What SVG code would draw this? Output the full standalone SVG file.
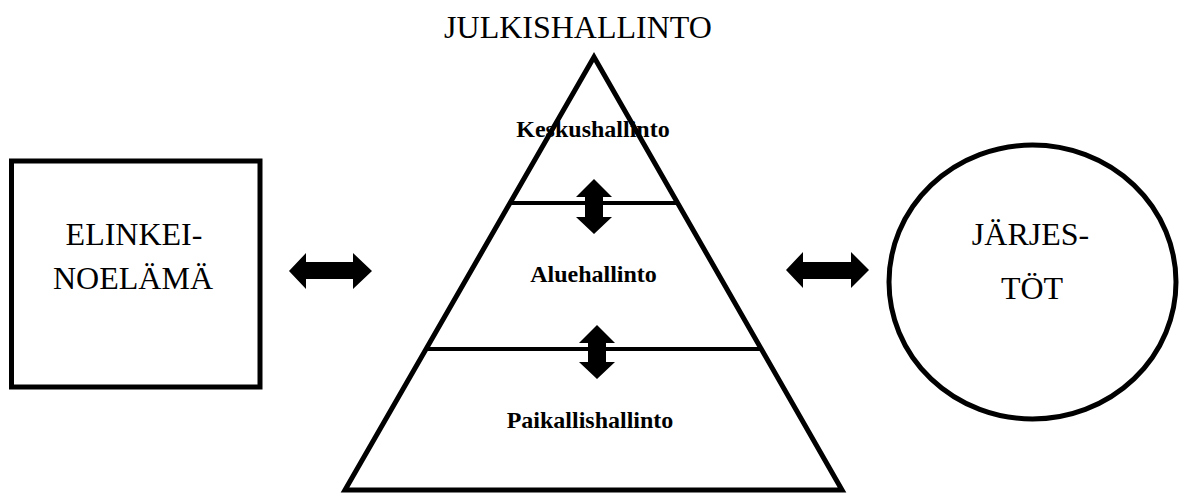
<svg xmlns="http://www.w3.org/2000/svg" width="1179" height="494" viewBox="0 0 1179 494">
<style>
.shape{fill:none;stroke:#000;stroke-width:5}
.line{stroke:#000;stroke-width:4;fill:none}
.arrow{fill:#000;stroke:none}
.big{font-family:"Liberation Serif","Times New Roman",serif;font-size:32px;fill:#000;text-anchor:middle}
.lvl{font-family:"Liberation Serif","Times New Roman",serif;font-size:24px;font-weight:bold;fill:#000;text-anchor:middle}
</style>
<rect width="1179" height="494" fill="#fff"/>
<text class="big" x="578" y="38">JULKISHALLINTO</text>
<g id="elinkeinoelama">
<rect class="shape" x="11.5" y="161" width="248.5" height="226"/>
<text class="big" x="134" y="245">ELINKEI-</text>
<text class="big" x="133" y="289">NOELÄMÄ</text>
</g>
<g id="julkishallinto">
<polygon class="shape" stroke-width="4.5" points="594,57 345,490 842,490"/>
<line class="line" x1="510" y1="203" x2="678" y2="203"/>
<line class="line" x1="426" y1="349" x2="762" y2="349"/>
</g>
<g id="keskushallinto"><text class="lvl" x="593" y="137">Keskushallinto</text></g>
<g id="aluehallinto"><text class="lvl" x="593.5" y="282">Aluehallinto</text></g>
<g id="paikallishallinto"><text class="lvl" x="590" y="428">Paikallishallinto</text></g>
<g id="jarjestot">
<ellipse class="shape" cx="1032.5" cy="282" rx="143.5" ry="137"/>
<text class="big" x="1030.5" y="245">JÄRJES-</text>
<text class="big" x="1032" y="299">TÖT</text>
</g>
<g id="connectors">
<polygon class="arrow" points="289,271 306,253 306,262 353,262 353,253 372,271 353,289 353,279 306,279 306,289"/>
<polygon class="arrow" points="786,270 803,252 803,262 851,262 851,252 869,270 851,288 851,279 803,279 803,288"/>
<polygon class="arrow" points="594,179 612,197 603,197 603,217 612,217 594,234 576,217 585,217 585,197 576,197"/>
<polygon class="arrow" points="597,325 615,343 606,343 606,362 615,362 597,379 579,362 588,362 588,343 579,343"/>
</g>
</svg>
